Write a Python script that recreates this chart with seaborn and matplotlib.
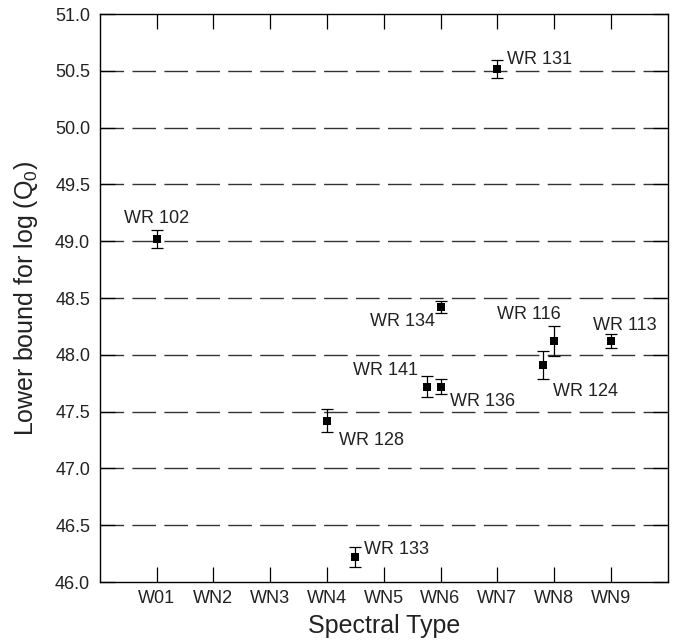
import matplotlib
matplotlib.use('Agg')
import matplotlib.pyplot as plt
import seaborn as sns
import pandas as pd

stars = ['WR 102', 'WR 128', 'WR 133', 'WR 141', 'WR 136', 'WR 134',
         'WR 131', 'WR 124', 'WR 116', 'WR 113']
spec_pos = [1.0, 4.0, 4.5, 5.77, 6.0, 6.0, 7.0, 7.80, 8.0, 9.0]
logq = [49.02, 47.42, 46.22, 47.72, 47.72, 48.42, 50.52, 47.91, 48.12, 48.12]
err = [0.08, 0.10, 0.085, 0.09, 0.065, 0.05, 0.08, 0.12, 0.13, 0.06]
# label offsets in points (dx, dy to baseline) and horizontal alignment
lab_dx = [0, 8.6, 6.5, -6.5, 6.5, -4.3, 7.2, 7.2, -18.4, 10]
lab_dy = [11.5, -17.3, 2.2, 8.6, -13.7, -13.7, 3.6, -22.3, 15.8, 7.9]
lab_ha = ['center', 'left', 'left', 'right', 'left', 'right', 'left', 'left', 'center', 'center']

spec_ticks = [1, 2, 3, 4, 5, 6, 7, 8, 9]
spec_labels = ['W01', 'WN2', 'WN3', 'WN4', 'WN5', 'WN6', 'WN7', 'WN8', 'WN9']

df = pd.DataFrame({'star': stars, 'spec': spec_pos, 'logq': logq, 'err': err})

sns.set_style('ticks')
plt.rcParams['font.family'] = ['Liberation Sans', 'DejaVu Sans']
plt.rcParams['mathtext.fontset'] = 'custom'
plt.rcParams['mathtext.rm'] = 'Liberation Sans'

fig = plt.figure(figsize=(6.75, 6.41), dpi=100)
ax = fig.add_axes([0.148, 0.092, 0.841, 0.886])

for yv in [46.5, 47.0, 47.5, 48.0, 48.5, 49.0, 49.5, 50.0, 50.5]:
    ax.axhline(yv, color='#333333', lw=1.0, ls=(0, (17, 6)), zorder=0)

ax.errorbar(df['spec'], df['logq'], yerr=df['err'], fmt='none',
            ecolor='black', elinewidth=0.9, capsize=4, capthick=0.9, zorder=2)
sns.scatterplot(data=df, x='spec', y='logq', marker='s', color='black',
                s=28, edgecolor='black', linewidth=0, ax=ax, zorder=3)

for i, row in df.iterrows():
    ax.annotate(row['star'], (row['spec'], row['logq']),
                xytext=(lab_dx[i], lab_dy[i]), textcoords='offset points',
                ha=lab_ha[i], va='baseline', fontsize=13, color='#222222')

ax.set_xlim(0, 10)
ax.set_ylim(46.0, 51.0)
ax.set_xticks(spec_ticks)
ax.set_xticklabels(spec_labels)
ax.set_yticks([46.0 + 0.5 * k for k in range(11)])
ax.set_yticklabels([f'{46.0 + 0.5 * k:.1f}' for k in range(11)])
ax.tick_params(axis='both', direction='in', top=True, right=True,
               length=11, width=0.9, labelsize=13, color='black',
               labelcolor='#222222')
ax.tick_params(axis='x', pad=6)
ax.tick_params(axis='y', pad=7)
for sp in ax.spines.values():
    sp.set_color('black')
    sp.set_linewidth(1.0)

ax.set_xlabel('Spectral Type', fontsize=18, color='#222222', labelpad=5)
ax.set_ylabel(r'Lower bound for log (Q$_\mathregular{0}$)', fontsize=18,
              color='#222222', labelpad=11)

fig.savefig('out.png', dpi=100)
